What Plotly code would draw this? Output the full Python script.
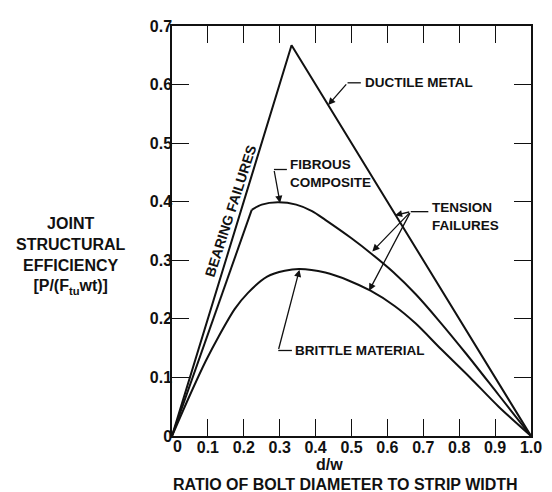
import plotly.graph_objects as go

# ---- data ----
ductile_x = [0.0, 0.333, 1.0]
ductile_y = [0.0, 0.667, 0.0]

fibrous_bearing_x = [0.0, 0.222]
fibrous_bearing_y = [0.0, 0.386]
fibrous_tension_x = [0.222, 0.25, 0.295, 0.346, 0.39, 0.427, 0.499, 0.558, 0.616, 0.679, 0.742, 0.82, 0.91, 1.0]
fibrous_tension_y = [0.386, 0.395, 0.399, 0.395, 0.384, 0.369, 0.338, 0.31, 0.28, 0.242, 0.198, 0.14, 0.07, 0.0]

brittle_x = [0.0, 0.05, 0.094, 0.13, 0.175, 0.211, 0.265, 0.314, 0.355, 0.427, 0.49, 0.553, 0.62, 0.679, 0.75, 0.83, 0.91, 1.0]
brittle_y = [0.0, 0.07, 0.128, 0.17, 0.217, 0.244, 0.272, 0.282, 0.285, 0.279, 0.266, 0.248, 0.222, 0.192, 0.148, 0.1, 0.05, 0.0]

x_tickvals = [0, 0.1, 0.2, 0.3, 0.4, 0.5, 0.6, 0.7, 0.8, 0.9, 1.0]
x_ticktext = ["0", "0.1", "0.2", "0.3", "0.4", "0.5", "0.6", "0.7", "0.8", "0.9", "1.0"]
y_tickvals = [0, 0.1, 0.2, 0.3, 0.4, 0.5, 0.6, 0.7]
y_ticktext = ["0", "0.1", "0.2", "0.3", "0.4", "0.5", "0.6", "0.7"]

FONT = "Liberation Sans, Arial, sans-serif"
INK = "#111111"

fig = go.Figure()
line_style = dict(color=INK, width=2)
fig.add_trace(go.Scatter(x=ductile_x, y=ductile_y, mode="lines", line=line_style, hoverinfo="skip"))
fig.add_trace(go.Scatter(x=fibrous_bearing_x, y=fibrous_bearing_y, mode="lines", line=line_style, hoverinfo="skip"))
fig.add_trace(go.Scatter(x=fibrous_tension_x, y=fibrous_tension_y, mode="lines",
                         line=dict(color=INK, width=2, shape="spline", smoothing=0.8), hoverinfo="skip"))
fig.add_trace(go.Scatter(x=brittle_x, y=brittle_y, mode="lines",
                         line=dict(color=INK, width=2, shape="spline", smoothing=0.8), hoverinfo="skip"))

# ---- labels ----
lbl_font = dict(family=FONT, size=13.5, color=INK)
labels = [
    ("<b>DUCTILE METAL</b>", 0.531, 0.603),
    ("<b>FIBROUS<br>COMPOSITE</b>", 0.324, 0.448),
    ("<b>TENSION<br>FAILURES</b>", 0.718, 0.374),
    ("<b>BRITTLE MATERIAL</b>", 0.338, 0.146),
]
for txt, lx, ly in labels:
    fig.add_annotation(x=lx, y=ly, xref="x", yref="y", text=txt, showarrow=False,
                       xanchor="left", yanchor="middle", align="left", font=lbl_font)

fig.add_annotation(x=0.162, y=0.385, xref="x", yref="y", text="<b>BEARING FAILURES</b>",
                   showarrow=False, textangle=-72, font=dict(family=FONT, size=14, color=INK))

# leader arrows: (tail x, tail y, tip x, tip y)
arrows = [
    (0.489, 0.603, 0.435, 0.565),
    (0.284, 0.455, 0.301, 0.398),
    (0.665, 0.383, 0.621, 0.377),
    (0.665, 0.383, 0.558, 0.315),
    (0.665, 0.383, 0.549, 0.248),
    (0.296, 0.146, 0.355, 0.284),
]
for tx, ty, hx, hy in arrows:
    fig.add_annotation(x=hx, y=hy, ax=tx, ay=ty, xref="x", yref="y", axref="x", ayref="y",
                       text="", showarrow=True, arrowhead=2, arrowsize=1.1, arrowwidth=1.3,
                       arrowcolor=INK, standoff=0, startstandoff=0)

# horizontal leader stubs: (x0, x1, y)
stubs = [
    (0.489, 0.526, 0.603),
    (0.284, 0.320, 0.455),
    (0.665, 0.714, 0.383),
    (0.296, 0.334, 0.146),
]
for x0, x1, yy in stubs:
    fig.add_shape(type="line", x0=x0, x1=x1, y0=yy, y1=yy, xref="x", yref="y",
                  line=dict(color=INK, width=1.3))

# axis titles
fig.add_annotation(x=-0.281, y=0.44, xref="paper", yref="paper",
                   text="<b>JOINT<br>STRUCTURAL<br>EFFICIENCY<br>[P/(F<sub>tu</sub>wt)]</b>",
                   showarrow=False, xanchor="center", yanchor="middle", align="center",
                   font=dict(family=FONT, size=16, color=INK))
fig.add_annotation(x=0.44, y=-0.0697, xref="paper", yref="paper", text="<b>d/w</b>",
                   showarrow=False, xanchor="center", yanchor="middle", font=dict(family=FONT, size=16, color=INK))
fig.add_annotation(x=0.484, y=-0.118, xref="paper", yref="paper",
                   text="<b>RATIO OF BOLT DIAMETER TO STRIP WIDTH</b>",
                   showarrow=False, xanchor="center", yanchor="middle", font=dict(family=FONT, size=16, color=INK))

# x-axis "0" label sits slightly right of the origin in the reference
x_labels = [f"<b>{t}</b>" for t in x_ticktext]
x_labels[0] = ""
fig.add_annotation(x=0.016, y=-0.026, xref="x", yref="paper", text=f"<b>{x_ticktext[0]}</b>",
                   showarrow=False, xanchor="center", yanchor="middle",
                   font=dict(family=FONT, size=16, color=INK))

axis_common = dict(showgrid=False, zeroline=False, showline=True, linecolor=INK, linewidth=1.5,
                   mirror="ticks", ticks="inside", ticklen=17, tickwidth=1.3, tickcolor=INK,
                   tickfont=dict(family=FONT, size=16, color=INK))
fig.update_xaxes(range=[0, 1.0], tickvals=x_tickvals, ticktext=x_labels,
                 ticklabelstandoff=-4, **axis_common)
fig.update_yaxes(range=[0, 0.7], tickvals=y_tickvals, ticktext=[f"<b>{t}</b>" for t in y_ticktext],
                 ticklabelstandoff=-5, **axis_common)

# page body adds an 8px offset; compensate so the plot area lands at the reference position
fig.update_layout(width=544, height=484, margin=dict(l=164, r=10, t=12, b=56),
                  paper_bgcolor="white", plot_bgcolor="white", showlegend=False)

fig.write_html("out.html")
